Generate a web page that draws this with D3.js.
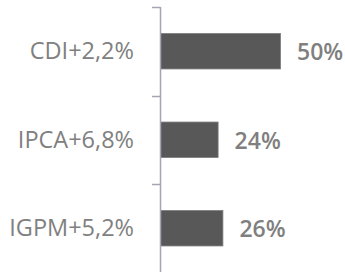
<!DOCTYPE html>
<html>
<head>
<meta charset="utf-8">
<script src="https://cdn.jsdelivr.net/npm/d3@7"></script>
<style>
  body { margin: 0; background: #fff; }
  text { font-family: "Open Sans", sans-serif; }
</style>
</head>
<body>
<div id="chart"></div>
<script>
var categories = ['CDI+2,2%', 'IPCA+6,8%', 'IGPM+5,2%'];
var values = [50, 24, 26];
var valueLabels = ['50%', '24%', '26%'];

var W = 345, H = 272;
var axisX = 160.5;

var svg = d3.select('#chart')
  .append('svg')
  .attr('width', W)
  .attr('height', H);

// band scale, no padding so ticks fall on band edges
var yScale = d3.scaleBand()
  .domain(categories)
  .range([7, 272.5]);

var step = yScale.step();

var xScale = d3.scaleLinear()
  .domain([0, 50])
  .range([axisX, axisX + 120]);

// bars
svg.append('g')
  .selectAll('rect')
  .data(values)
  .enter()
  .append('rect')
  .attr('x', xScale(0))
  .attr('y', function (d, i) { return yScale(categories[i]) + step * 0.3; })
  .attr('width', function (d) { return xScale(d) - xScale(0); })
  .attr('height', step * 0.4)
  .attr('fill', '#585858')
  .attr('stroke', '#7a7a7a')
  .attr('stroke-width', 0.8);

// axis line + ticks at band edges
var g = svg.append('g');
g.append('line')
  .attr('x1', axisX).attr('x2', axisX)
  .attr('y1', yScale.range()[0]).attr('y2', H + 2)
  .attr('stroke', '#a3a5b0')
  .attr('stroke-width', 1.5);

g.selectAll('.tick')
  .data(categories)
  .enter()
  .append('line')
  .attr('class', 'tick')
  .attr('x1', axisX - 8.5).attr('x2', axisX)
  .attr('y1', function (d) { return Math.round(yScale(d)) + 0.5; })
  .attr('y2', function (d) { return Math.round(yScale(d)) + 0.5; })
  .attr('stroke', '#a3a5b0')
  .attr('stroke-width', 1.5);

// category labels
svg.append('g')
  .selectAll('text')
  .data(categories)
  .enter()
  .append('text')
  .attr('x', 134)
  .attr('y', function (d) { return yScale(d) + step / 2; })
  .attr('dy', '0.35em')
  .attr('text-anchor', 'end')
  .attr('fill', '#808080')
  .attr('font-size', 23.5)
  .text(function (d) { return d; });

// value labels
svg.append('g')
  .selectAll('text')
  .data(values)
  .enter()
  .append('text')
  .attr('x', function (d) { return xScale(d) + 16.5; })
  .attr('y', function (d, i) { return yScale(categories[i]) + step / 2 + 1; })
  .attr('dy', '0.35em')
  .attr('fill', '#7f7f7f')
  .attr('font-size', 23)
  .attr('font-weight', 600)
  .text(function (d, i) { return valueLabels[i]; });
</script>
</body>
</html>
